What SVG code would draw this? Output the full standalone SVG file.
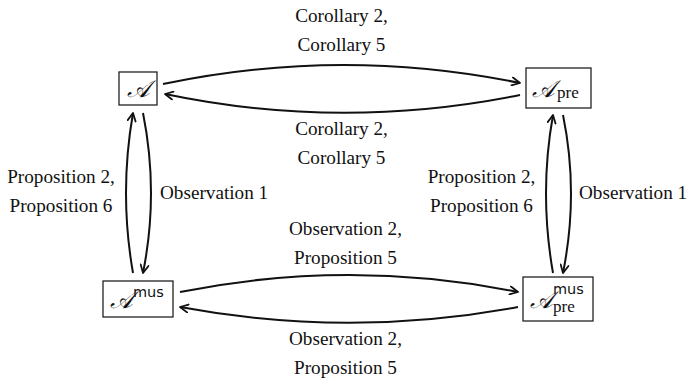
<svg xmlns="http://www.w3.org/2000/svg" width="690" height="384" viewBox="0 0 690 384">
<style>
.box{fill:#fff;stroke:#222;stroke-width:1.3}
.cal{font-family:'DejaVu Serif','Liberation Serif',serif;font-style:italic;font-size:24px;fill:#111}
.sup{font-family:'DejaVu Sans','Liberation Sans',sans-serif;font-size:14.5px;fill:#111}
.edge{fill:none;stroke:#111;stroke-width:2}
</style>
<defs>
<marker id="ah" viewBox="0 0 10 10" refX="9" refY="5" markerWidth="10" markerHeight="10" markerUnits="userSpaceOnUse" orient="auto">
<path d="M1,1 L9,5 L1,9" fill="none" stroke="#111" stroke-width="1.8" stroke-linecap="round" stroke-linejoin="round"/>
</marker>
</defs>
<g id="connectors">
<path class="edge" d="M163,84 Q341,46.5 520,83" marker-end="url(#ah)"/>
<path class="edge" d="M520,95 Q341,131 165,94" marker-end="url(#ah)"/>
<path class="edge" d="M180,292 Q349,258 518,292" marker-end="url(#ah)"/>
<path class="edge" d="M518,307 Q349,338.5 180,307" marker-end="url(#ah)"/>
<path class="edge" d="M133,273 Q119,193 133,113" marker-end="url(#ah)"/>
<path class="edge" d="M143,113 Q159,193 143,273" marker-end="url(#ah)"/>
<path class="edge" d="M553,273 Q539,193 553,115" marker-end="url(#ah)"/>
<path class="edge" d="M563,115 Q579,193 563,273" marker-end="url(#ah)"/>
</g>
<g id="labels" font-family="Liberation Serif, DejaVu Serif, serif" font-size="19.2" fill="#111" text-anchor="middle">
<text x="341.5" y="21.5">Corollary 2,</text>
<text x="341.5" y="50.5">Corollary 5</text>
<text x="341.5" y="135">Corollary 2,</text>
<text x="341.5" y="164">Corollary 5</text>
<text x="61" y="183">Proposition 2,</text>
<text x="61" y="212">Proposition 6</text>
<text x="481.5" y="183">Proposition 2,</text>
<text x="481.5" y="212">Proposition 6</text>
<text x="160" y="199" text-anchor="start">Observation 1</text>
<text x="579" y="199" text-anchor="start">Observation 1</text>
<text x="345.5" y="235">Observation 2,</text>
<text x="345.5" y="264">Proposition 5</text>
<text x="345.5" y="345">Observation 2,</text>
<text x="345.5" y="374">Proposition 5</text>
</g>
<g id="node-A">
<rect class="box" x="119" y="72" width="38" height="33"/>
<text class="cal" x="138" y="97" text-anchor="middle">𝒜</text>
</g>
<g id="node-Apre">
<rect class="box" x="526" y="68" width="65" height="40"/>
<text class="cal" x="532" y="97">𝒜</text>
<text x="557" y="98" font-family="Liberation Serif, DejaVu Serif, serif" font-size="17" fill="#111">pre</text>
</g>
<g id="node-Amus">
<rect class="box" x="103" y="281" width="70" height="36"/>
<text class="cal" x="110" y="308">𝒜</text>
<text class="sup" x="133" y="297">mus</text>
</g>
<g id="node-Amuspre">
<rect class="box" x="523" y="277" width="70" height="44"/>
<text class="cal" x="530" y="308">𝒜</text>
<text class="sup" x="553" y="294">mus</text>
<text x="553" y="312" font-family="Liberation Serif, DejaVu Serif, serif" font-size="17" fill="#111">pre</text>
</g>
</svg>
